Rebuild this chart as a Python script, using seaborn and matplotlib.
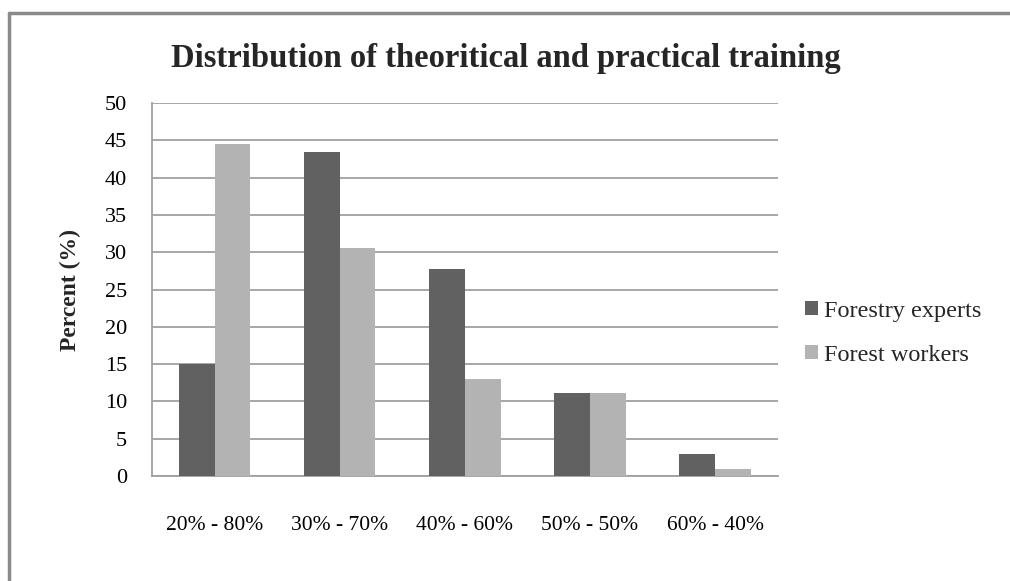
import matplotlib
matplotlib.use("Agg")
import matplotlib.pyplot as plt
import seaborn as sns
import pandas as pd
from matplotlib.lines import Line2D

# Training split (theory - practice) and share of respondents per group
categories = ["20% - 80%", "30% - 70%", "40% - 60%", "50% - 50%", "60% - 40%"]
series_names = ["Forestry experts", "Forest workers"]
experts = [15.0, 43.5, 27.7, 11.1, 3.0]
workers = [44.5, 30.6, 13.0, 11.1, 1.0]
y_ticks = [0, 5, 10, 15, 20, 25, 30, 35, 40, 45, 50]

df = pd.DataFrame({
    "category": categories * 2,
    "group": [series_names[0]] * len(categories) + [series_names[1]] * len(categories),
    "value": experts + workers,
})

sns.set_theme(style="white")
plt.rcParams["font.family"] = ["Liberation Serif", "DejaVu Serif"]

fig = plt.figure(figsize=(10.10, 5.81), dpi=100)
ax = fig.add_axes([0.1505, 0.1807, 0.6195, 0.642])

palette = {series_names[0]: "#616161", series_names[1]: "#b3b3b3"}
sns.barplot(data=df, x="category", y="value", hue="group", palette=palette,
            width=0.57, saturation=1, ax=ax, zorder=3, linewidth=0)

ax.set_ylim(0, 50)
ax.set_yticks(y_ticks)
ax.set_xlim(-0.5, len(categories) - 0.5)
ax.yaxis.grid(True, color="#a0a0a0", linewidth=1.3, zorder=0)
ax.xaxis.grid(False)
ax.set_axisbelow(True)

for side in ["top", "right"]:
    ax.spines[side].set_visible(False)
for side in ["left", "bottom"]:
    ax.spines[side].set_color("#a0a0a0")
    ax.spines[side].set_linewidth(1.3)

ax.tick_params(axis="both", length=0, colors="black")
ax.tick_params(axis="y", pad=18, labelsize=16)
ax.tick_params(axis="x", pad=29, labelsize=15.5)
ax.set_xlabel("")
ax.set_ylabel("Percent (%)", fontsize=17, fontweight="bold", labelpad=17)

ax.legend(loc="center left", bbox_to_anchor=(1.028, 0.383), frameon=False,
          fontsize=17.5, handlelength=0.55, handleheight=0.55, handletextpad=0.25,
          labelspacing=0.95, borderaxespad=0)

fig.text(0.501, 0.9, "Distribution of theoritical and practical training",
         ha="center", va="center", fontsize=23.5, fontweight="bold")

# Chart frame along the top and left edges
frame_kw = dict(color="#8a8a8a", linewidth=2.5, transform=fig.transFigure, figure=fig)
fig.lines.append(Line2D([0.0085, 1.0], [0.978, 0.978], **frame_kw))
fig.lines.append(Line2D([0.0085, 0.0085], [0.0, 0.978], **frame_kw))

fig.savefig("out.png", dpi=100, facecolor="white")
